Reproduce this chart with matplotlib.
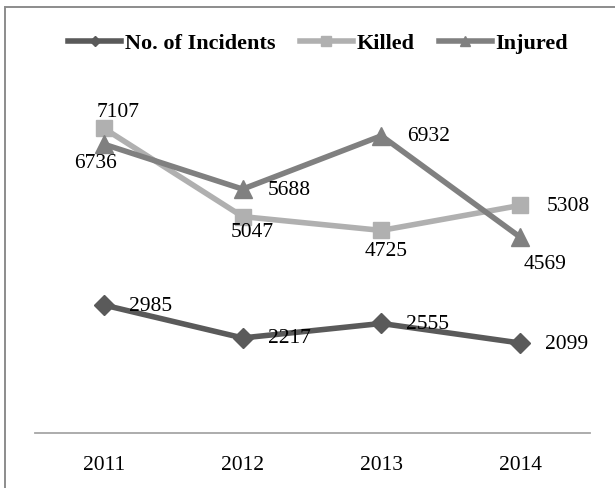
import matplotlib
matplotlib.use("Agg")
import matplotlib.pyplot as plt
from matplotlib.patches import Rectangle

plt.rcParams['font.family'] = ['Liberation Serif', 'DejaVu Serif']

years = ['2011', '2012', '2013', '2014']
incidents = [2985, 2217, 2555, 2099]
killed = [7107, 5047, 4725, 5308]
injured = [6736, 5688, 6932, 4569]

# label offsets in pixels (dx, dy) per point, with alignment
inc_off = [(25, 0, 'left'), (25, 0, 'left'), (25, 0, 'left'), (25, 0, 'left')]
kil_off = [(14, 17, 'center'), (10, -15, 'center'), (5, -20, 'center'), (27, 0, 'left')]
inj_off = [(-8, -18, 'center'), (25, 0, 'left'), (26, 0, 'left'), (25, -26, 'center')]

W, H = 615, 489
fig = plt.figure(figsize=(W / 100, H / 100), dpi=100)
ax = fig.add_axes([34.5 / W, 55 / H, 555 / W, (434 - 91) / H])

x = range(len(years))
l1, = ax.plot(x, incidents, color='#5a5a5a', lw=4, marker='D', ms=10, label='No. of Incidents')
l2, = ax.plot(x, killed, color='#b0b0b0', lw=4, marker='s', ms=12, label='Killed')
l3, = ax.plot(x, injured, color='#808080', lw=4, marker='^', ms=13, label='Injured')

for vals, offs in ((incidents, inc_off), (killed, kil_off), (injured, inj_off)):
    for i, v in enumerate(vals):
        dx, dy, ha = offs[i]
        ax.annotate(str(v), (i, v), xytext=(dx, dy), textcoords='offset pixels',
                    ha=ha, va='center', fontsize=15.5, color='black')

ax.set_xlim(-0.5, 3.5)
ax.set_ylim(0, 8000)
ax.set_xticks(list(x))
ax.set_xticklabels(years, fontsize=15.5)
ax.tick_params(axis='x', length=0, pad=16)
ax.set_yticks([])
for s in ('top', 'right', 'left'):
    ax.spines[s].set_visible(False)
ax.spines['bottom'].set_color('#a6a6a6')
ax.spines['bottom'].set_linewidth(1.3)

fig.legend(handles=[l1, l2, l3], loc='center', bbox_to_anchor=(318 / W, 1 - 44 / H),
           ncol=3, frameon=False, markerscale=0.55, handlelength=2.4,
           handletextpad=0.15, columnspacing=1.1, prop={'weight': 'bold', 'size': 16})

# outer frame
fig.patches.append(Rectangle((5 / W, -0.05), 1.1, 1 - 8 / H + 0.05, transform=fig.transFigure,
                             fill=False, edgecolor='#8c8c8c', lw=1.4))

fig.savefig('out.png', dpi=100)
